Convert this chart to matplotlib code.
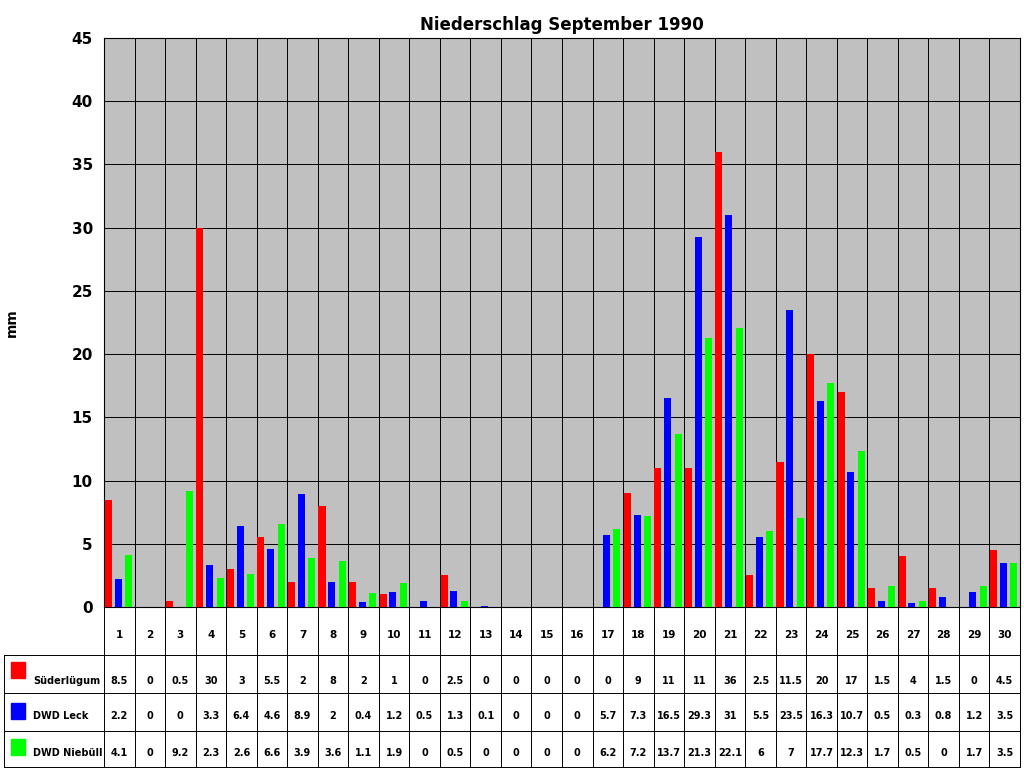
import matplotlib
matplotlib.use("Agg")
import matplotlib.pyplot as plt
import numpy as np

days = list(range(1, 31))
sued = [8.5,0,0.5,30,3,5.5,2,8,2,1,0,2.5,0,0,0,0,0,9,11,11,36,2.5,11.5,20,17,1.5,4,1.5,0,4.5]
leck = [2.2,0,0,3.3,6.4,4.6,8.9,2,0.4,1.2,0.5,1.3,0.1,0,0,0,5.7,7.3,16.5,29.3,31,5.5,23.5,16.3,10.7,0.5,0.3,0.8,1.2,3.5]
nieb = [4.1,0,9.2,2.3,2.6,6.6,3.9,3.6,1.1,1.9,0,0.5,0,0,0,0,6.2,7.2,13.7,21.3,22.1,6,7,17.7,12.3,1.7,0.5,0,1.7,3.5]
names = ["Süderlügum", "DWD Leck", "DWD Niebüll"]
colors = ["#FF0000", "#0000FF", "#00FF00"]
series = [sued, leck, nieb]

W, H = 1024, 768
fig = plt.figure(figsize=(10.24, 7.68), dpi=100)
L, R, T, B = 104, 1020, 38, 607
ax = fig.add_axes([L/W, 1-B/H, (R-L)/W, (B-T)/H])
ax.set_facecolor("#C0C0C0")
x = np.arange(30)
offs = [-0.36, -0.04, 0.30]
for s, c, o in zip(series, colors, offs):
    ax.bar(x + o, s, width=0.23, color=c, zorder=3)
ax.set_xlim(-0.5, 29.5)
ax.set_ylim(0, 45)
ax.set_yticks(range(0, 46, 5))
ax.set_xticks([])
for v in range(5, 46, 5):
    ax.axhline(v, color="black", lw=0.7, zorder=1)
for i in range(30):
    ax.axvline(i - 0.5, color="black", lw=0.7, zorder=1)
for lab in ax.get_yticklabels():
    lab.set_fontweight("bold"); lab.set_fontsize(11)
ax.tick_params(axis="y", length=0, pad=8)
ax.set_ylabel("mm", fontweight="bold", fontsize=10, labelpad=38)
ax.set_title("Niederschlag September 1990", fontweight="bold", fontsize=12, pad=6)
for sp in ax.spines.values():
    sp.set_color("black")

# table
tb = fig.add_axes([0, 0, 1, 1-B/H])
tb.set_xlim(0, W); tb.set_ylim(H, B); tb.axis("off")
cw = (R - L) / 30
rows = [B, 655, 693, 731, H-1]
for y in rows:
    tb.plot([4 if y != B else L, R], [y, y], color="black", lw=0.7)
for i in range(31):
    tb.plot([L + i*cw]*2, [B, H], color="black", lw=0.7)
tb.plot([4, 4], [655, H], color="black", lw=0.7)
for i, d in enumerate(days):
    tb.text(L + (i+0.5)*cw, 635, str(d), ha="center", va="center", fontsize=7.5, fontweight="bold")
ty = [681, 716, 753]
sy = [670, 711, 747]
for r in range(3):
    tb.add_patch(plt.Rectangle((11, sy[r]-8), 14, 16, color=colors[r]))
    tb.text(33, ty[r], names[r], ha="left", va="center", fontsize=7, fontweight="bold")
    for i, v in enumerate(series[r]):
        tb.text(L + (i+0.5)*cw, ty[r], f"{v:g}", ha="center", va="center", fontsize=7, fontweight="bold")

fig.savefig("out.png", dpi=100)
